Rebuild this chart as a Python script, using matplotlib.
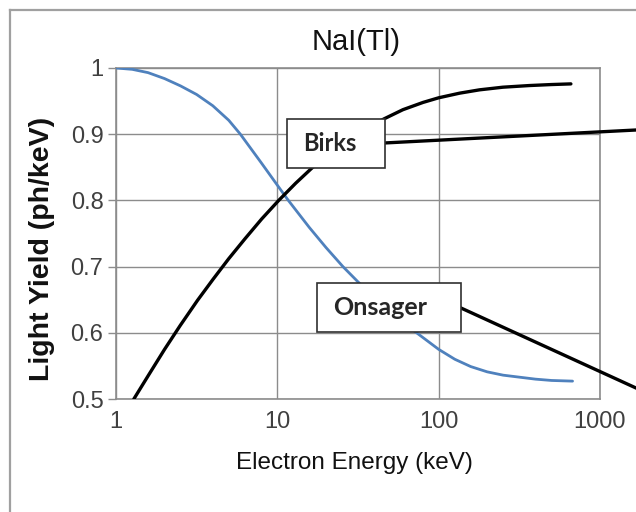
import matplotlib
matplotlib.use("Agg")
import matplotlib.pyplot as plt
from matplotlib.patches import Rectangle
from matplotlib.lines import Line2D
from matplotlib.ticker import FixedLocator, FixedFormatter, NullLocator

# Birks curve (black)
birks_energy = [1.29, 1.6, 2.0, 2.5, 3.2, 4.0, 5.0, 6.3, 8.0, 10.2, 13, 16.4, 21, 28, 36,
                45.7, 60, 80, 100, 135, 179, 250, 365, 500, 660]
birks_yield = [0.50, 0.537, 0.575, 0.611, 0.649, 0.681, 0.712, 0.742, 0.772, 0.80, 0.826,
               0.849, 0.870, 0.892, 0.909, 0.923, 0.937, 0.948, 0.955, 0.962, 0.967, 0.971,
               0.9735, 0.975, 0.976]

# Onsager-type curve (blue)
blue_energy = [1.0, 1.26, 1.58, 2.0, 2.51, 3.16, 3.98, 5.0, 5.9, 7.94, 10, 11.7, 15.8, 20,
               25.5, 31.6, 39.8, 50, 63, 73, 100, 126, 158, 200, 251, 316, 398, 501, 676]
blue_yield = [1.0, 0.998, 0.993, 0.984, 0.973, 0.960, 0.943, 0.921, 0.90, 0.857, 0.823, 0.80,
              0.759, 0.729, 0.70, 0.677, 0.654, 0.632, 0.611, 0.60, 0.575, 0.560, 0.549,
              0.541, 0.536, 0.533, 0.530, 0.528, 0.527]

x_ticks = [1, 10, 100, 1000]
y_ticks = [0.5, 0.6, 0.7, 0.8, 0.9, 1.0]
y_tick_labels = ["0.5", "0.6", "0.7", "0.8", "0.9", "1"]

W, H = 636, 512


def px(x, y):
    # pixel position (from top-left) -> figure fraction
    return x / W, 1 - y / H


fig = plt.figure(figsize=(W / 100, H / 100), dpi=100)
fig.patch.set_facecolor("white")

# outer frame, open to the right and bottom
fig.add_artist(Line2D([10 / W, 1.02], [1 - 10 / H, 1 - 10 / H], transform=fig.transFigure,
                      color="#a0a0a0", lw=1.6))
fig.add_artist(Line2D([10 / W, 10 / W], [-0.02, 1 - 10 / H], transform=fig.transFigure,
                      color="#a0a0a0", lw=1.6))

left, bottom = px(116, 399)
right, top = px(600, 68)
ax = fig.add_axes([left, bottom, right - left, top - bottom])

ax.plot(blue_energy, blue_yield, color="#4f81bd", lw=2.0, zorder=3,
        solid_joinstyle="round", solid_capstyle="round")
ax.plot(birks_energy, birks_yield, color="black", lw=2.4, zorder=4,
        solid_joinstyle="round", solid_capstyle="round")

ax.set_xscale("log")
ax.set_xlim(1, 1000)
ax.set_ylim(0.5, 1.0)
ax.xaxis.set_major_locator(FixedLocator(x_ticks))
ax.xaxis.set_major_formatter(FixedFormatter([str(t) for t in x_ticks]))
ax.xaxis.set_minor_locator(NullLocator())
ax.yaxis.set_major_locator(FixedLocator(y_ticks))
ax.yaxis.set_major_formatter(FixedFormatter(y_tick_labels))

ax.grid(True, color="#8c8c8c", lw=1.0)
ax.set_axisbelow(True)
for s in ax.spines.values():
    s.set_color("#8c8c8c")
    s.set_linewidth(1.2)

ax.tick_params(axis="y", direction="out", length=6, width=1.0, color="#8c8c8c",
               labelcolor="#404040", pad=3)
ax.tick_params(axis="x", length=0, labelcolor="#404040", pad=9)
for lab in ax.get_xticklabels() + ax.get_yticklabels():
    lab.set_fontfamily(["Liberation Sans", "DejaVu Sans"])
    lab.set_fontsize(17)

plain = ["Liberation Sans", "DejaVu Sans"]
fig.text(*px(356, 42), "NaI(Tl)", ha="center", va="center", fontsize=21,
         family=plain, color="#111111")
fig.text(*px(354, 463), "Electron Energy (keV)", ha="center", va="center", fontsize=17.5,
         family=plain, color="#111111")
fig.text(*px(42, 249), "Light Yield (ph/keV)", ha="center", va="center", rotation=90,
         fontsize=20.5, fontweight="bold", family=plain, color="#111111")

# callout leader lines
fig.add_artist(Line2D([384 / W, 1.0], [1 - 143 / H, 1 - 130 / H], transform=fig.transFigure,
                      color="black", lw=2.4, zorder=10))
fig.add_artist(Line2D([461 / W, 1.0], [1 - 308 / H, 1 - 388 / H], transform=fig.transFigure,
                      color="black", lw=2.4, zorder=10))

box_font = ["Lato", "DejaVu Sans"]
for x0, y0, x1, y1, label, tx, fs in [(287, 119, 385, 168, "Birks", 330, 17),
                                      (317, 283, 461, 332, "Onsager", 380, 18)]:
    fx0, fy1 = px(x0, y1)
    fx1, fy0 = px(x1, y0)
    fig.add_artist(Rectangle((fx0, fy1), fx1 - fx0, fy0 - fy1, transform=fig.transFigure,
                             facecolor="white", edgecolor="#303030", lw=1.2, zorder=11))
    fig.text(tx / W, (fy0 + fy1) / 2, label, ha="center", va="center", fontsize=fs,
             fontweight="bold", family=box_font, color="#262626", zorder=12)

fig.savefig("out.png", dpi=100)
